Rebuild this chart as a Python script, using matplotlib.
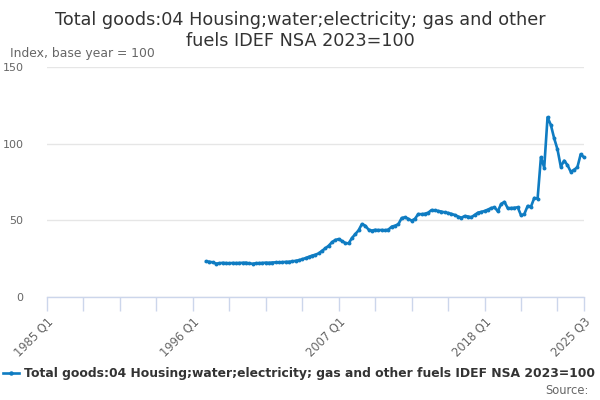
import matplotlib
matplotlib.use("Agg")
import matplotlib.pyplot as plt
import numpy as np

title_lines = ["Total goods:04 Housing;water;electricity; gas and other",
               "fuels IDEF NSA 2023=100"]
y_label = "Index, base year = 100"
series_name = "Total goods:04 Housing;water;electricity; gas and other fuels IDEF NSA 2023=100"

# quarter index counted from 1985 Q1 (= 0); data start at 1997 Q1
start_quarter = 48
values = [
    23.2, 23.0, 22.6, 21.8, 22.0, 22.3, 22.1, 22.0, 22.2, 22.1,
    22.2, 22.3, 22.4, 21.9, 21.7, 22.0, 22.1, 22.2, 22.4, 22.3,
    22.5, 22.6, 22.6, 22.7, 22.9, 23.0, 23.2, 23.6, 24.0, 24.6,
    25.4, 26.2, 27.0, 27.6, 28.5, 30.2, 31.8, 33.5, 35.8, 37.2,
    37.8, 36.5, 35.2, 35.0, 38.5, 41.0, 43.5, 47.6, 46.5, 44.0,
    43.3, 43.8, 43.6, 43.7, 43.5, 44.0, 45.9, 46.5, 47.5, 51.5,
    52.0, 51.0, 49.8, 51.0, 54.1, 54.0, 54.3, 55.0, 56.7, 56.5,
    56.1, 55.7, 55.2, 54.8, 54.2, 53.5, 52.5, 51.7, 52.8, 52.5,
    52.0, 53.5, 55.0, 55.5, 56.1, 57.0, 58.0, 58.5, 55.9, 60.7,
    62.0, 57.9, 58.0, 58.2, 58.5, 53.3, 54.1, 59.4, 58.9, 64.6,
    64.1, 91.1, 84.4, 117.2, 112.2, 103.5, 96.3, 85.0, 88.9, 86.1,
    81.7, 83.0, 84.6, 93.1, 91.1,
]

x_tick_positions = [0, 44, 88, 132, 162]
x_tick_labels = ["1985 Q1", "1996 Q1", "2007 Q1", "2018 Q1", "2025 Q3"]
minor_step = 11
y_ticks = [0, 50, 100, 150]

line_color = "#0f7cc2"
axis_color = "#ccd6eb"
grid_color = "#e6e6e6"
text_gray = "#666666"

fig = plt.figure(figsize=(6, 4), dpi=100)
ax = fig.add_axes([47 / 600, 1 - 297 / 400, (584 - 47) / 600, (297 - 67) / 400])

x = np.arange(start_quarter, start_quarter + len(values))
ax.plot(x, values, color=line_color, lw=1.9, marker="o", ms=2.8,
        markeredgewidth=0, zorder=3, clip_on=False)

ax.set_xlim(0, 162)
ax.set_ylim(0, 150)

ax.set_yticks(y_ticks)
ax.set_yticklabels([str(v) for v in y_ticks], color=text_gray, fontsize=8)
ax.tick_params(axis="y", length=0, pad=17)
ax.grid(axis="y", color=grid_color, lw=1)
ax.set_axisbelow(True)

minor = list(range(0, 162, minor_step)) + [162]
ax.set_xticks(minor)
labels = []
for m in minor:
    labels.append(x_tick_labels[x_tick_positions.index(m)] if m in x_tick_positions else "")
ax.set_xticklabels(labels, rotation=45, ha="right", va="top",
                   rotation_mode="anchor", color=text_gray, fontsize=8.3)
ax.tick_params(axis="x", length=10, width=1, color=axis_color, pad=3)

for s in ["top", "right", "left"]:
    ax.spines[s].set_visible(False)
ax.spines["bottom"].set_color(axis_color)
ax.spines["bottom"].set_linewidth(1)

fig.text(0.5, 1 - 20 / 400, title_lines[0], ha="center", va="center",
         fontsize=12.7, color="#333333")
fig.text(0.5, 1 - 41 / 400, title_lines[1], ha="center", va="center",
         fontsize=12.7, color="#333333")
fig.text(10 / 600, 1 - 53 / 400, y_label, ha="left", va="center",
         fontsize=8.9, color=text_gray)

# legend
fig.lines.append(plt.Line2D([3 / 600, 19 / 600], [1 - 373 / 400] * 2,
                            transform=fig.transFigure, color=line_color, lw=1.9))
fig.lines.append(plt.Line2D([11 / 600], [1 - 373 / 400], transform=fig.transFigure,
                            color=line_color, marker="o", ms=3.2, markeredgewidth=0))
fig.text(24 / 600, 1 - 373 / 400, series_name, ha="left", va="center",
         fontsize=8.95, fontweight="bold", color="#333333")
fig.text(589 / 600, 1 - 390 / 400, "Source:", ha="right", va="center",
         fontsize=8.3, color=text_gray)

fig.savefig("out.png", dpi=100)
